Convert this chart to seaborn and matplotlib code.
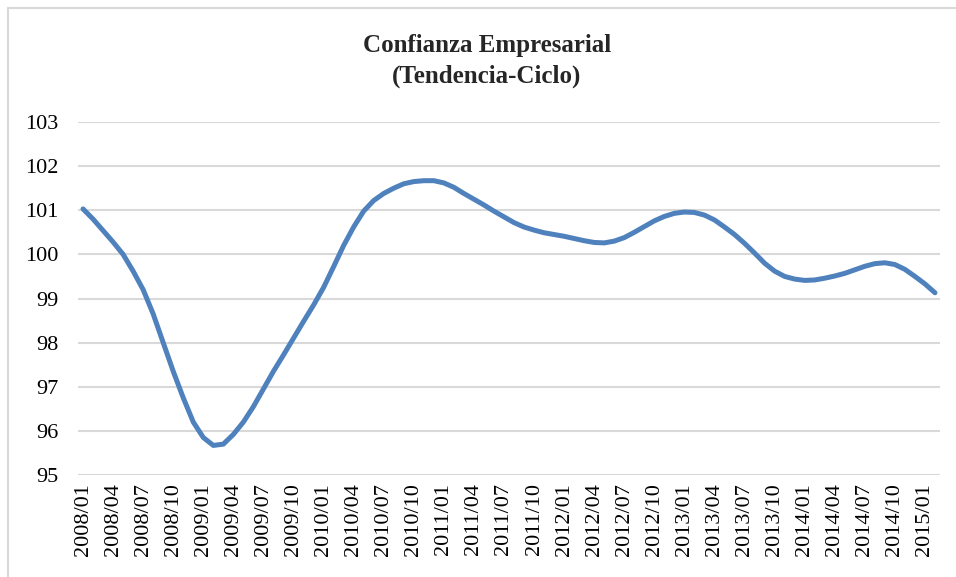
import numpy as np
import pandas as pd
import seaborn as sns
import matplotlib.pyplot as plt
from matplotlib.patches import Rectangle


# monthly tendencia-ciclo values, 2008/01 .. 2015/02
meses = [f"{y}/{m:02d}" for y in range(2008, 2016) for m in range(1, 13)][:86]

confianza = [
    101.03, 100.80, 100.54, 100.28, 100.00, 99.62, 99.20, 98.65, 98.00, 97.35,
    96.75, 96.20, 95.85, 95.67, 95.70, 95.92, 96.20, 96.55, 96.95, 97.35,
    97.72, 98.10, 98.48, 98.85, 99.25, 99.72, 100.20, 100.62, 100.98, 101.22,
    101.38, 101.50, 101.60, 101.65, 101.67, 101.67, 101.62, 101.52, 101.38, 101.25,
    101.12, 100.98, 100.85, 100.72, 100.62, 100.55, 100.49, 100.45, 100.41, 100.36,
    100.31, 100.27, 100.26, 100.30, 100.38, 100.50, 100.63, 100.76, 100.86, 100.93,
    100.96, 100.95, 100.89, 100.78, 100.62, 100.45, 100.25, 100.03, 99.80, 99.62,
    99.50, 99.44, 99.41, 99.42, 99.46, 99.51, 99.57, 99.65, 99.73, 99.79,
    99.81, 99.77, 99.66, 99.50, 99.33, 99.13,
]

TITULO = "Confianza Empresarial\n(Tendencia-Ciclo)"
y_ticks = [95, 96, 97, 98, 99, 100, 101, 102, 103]


df = pd.DataFrame({"Mes": meses, "Indice": confianza})
df["pos"] = np.arange(len(df))

sns.set_style("white")
plt.rcParams['font.family'] = ['Liberation Serif', 'DejaVu Serif']

fig = plt.figure(figsize=(9.56, 5.77), dpi=100)
ax = fig.add_axes([78 / 956, 1 - 475 / 577, (940 - 78) / 956, (475 - 122) / 577])

sns.lineplot(data=df, x="pos", y="Indice", ax=ax, color="#4F81BD", linewidth=3.6)

ax.set_xlim(-0.5, len(df) - 0.5)
ax.set_ylim(95, 103)
ax.set_yticks(y_ticks)
ax.set_yticklabels([str(v) for v in y_ticks], fontsize=16)
ax.set_xticks(df["pos"][::3])
ax.set_xticklabels(df["Mes"][::3], rotation=90, fontsize=16)
ax.tick_params(axis='both', length=0, colors='black')
ax.tick_params(axis='y', pad=14)
ax.tick_params(axis='x', pad=6)
ax.set_xlabel("")
ax.set_ylabel("")
ax.yaxis.grid(True, color="#D9D9D9", linewidth=1.5)
ax.set_axisbelow(True)
for s in ax.spines.values():
    s.set_visible(False)

fig.text(0.5 + 9 / 956, 1 - 61 / 577, TITULO, ha='center', va='center',
         fontsize=18, fontweight='bold', linespacing=1.45)

# outer chart frame
fig.patches.append(Rectangle((8 / 956, -0.1), 1.2, 1 - 7.5 / 577 + 0.1,
                             transform=fig.transFigure, fill=False,
                             edgecolor="#D9D9D9", linewidth=1.5))

fig.savefig("out.png", dpi=100)
